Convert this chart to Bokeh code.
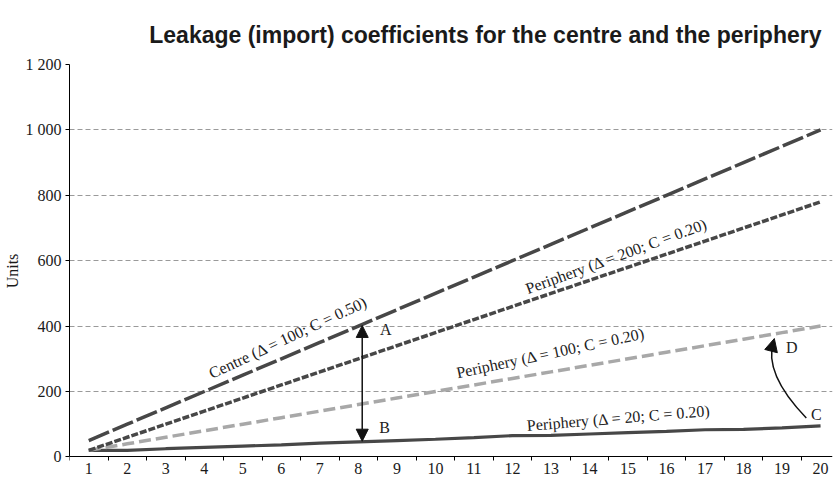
import math
from bokeh.plotting import figure
from bokeh.models import (Range1d, FixedTicker, CustomJSTickFormatter, Arrow, NormalHead)
from bokeh.core.properties import value
from bokeh.embed import file_html
from bokeh.resources import INLINE

# ---- data ----
periods = [1, 2, 3, 4, 5, 6, 7, 8, 9, 10, 11, 12, 13, 14, 15, 16, 17, 18, 19, 20]
centre_100_050 = [50, 100, 150, 200, 250, 300, 350, 400, 450, 500,
                  550, 600, 650, 700, 750, 800, 850, 900, 950, 1000]
periphery_200_020 = [20, 60, 100, 140, 180, 220, 260, 300, 340, 380,
                     420, 460, 500, 540, 580, 620, 660, 700, 740, 780]
periphery_100_020 = [20, 40, 60, 80, 100, 120, 140, 160, 180, 200,
                     220, 240, 260, 280, 300, 320, 340, 360, 380, 400]
periphery_20_020 = [20, 20, 25, 29, 33, 37, 42, 46, 50, 54,
                    59, 65, 66, 70, 74, 78, 83, 84, 89, 95]
y_ticks = [0, 200, 400, 600, 800, 1000, 1200]

series_labels = ["Centre (\u0394 = 100; C =  0.50)",
                 "Periphery (\u0394 = 200; C = 0.20)",
                 "Periphery (\u0394 = 100; C = 0.20)",
                 "Periphery (\u0394 = 20; C = 0.20)"]
label_x = [6.22, 14.70, 12.99, 14.76]
label_y = [368, 614, 318, 119]
label_deg = [25, 20, 12, 4.7]

letters = ["A", "B", "C", "D"]
letter_x = [8.71, 8.68, 19.89, 19.25]
letter_y = [391, 89, 131, 336]

SERIF = "Liberation Serif"
DARK = "#474747"
LIGHT = "#a8a8a8"

p = figure(frame_width=763, frame_height=413, output_backend="svg", toolbar_location=None,
           x_range=Range1d(0.5, 20.31), y_range=Range1d(-63, 1200),
           min_border_left=62, min_border_right=1, min_border_top=64,
           min_border_bottom=0)
p.outline_line_color = None
p.background_fill_color = "white"
p.border_fill_color = "white"

p.title.text = "Leakage (import) coefficients for the centre and the periphery"
p.title.text_font = "Liberation Sans"
p.title.text_font_style = "bold"
p.title.text_font_size = "23px"
p.title.text_color = "#1a1a1a"
p.title.align = "right"
p.title.offset = 11
p.title.standoff = 34

# axes
xa = p.xaxis[0]
xa.fixed_location = 0
xa.ticker = FixedTicker(ticks=periods, minor_ticks=[i + 0.5 for i in range(0, 20)])
xa.major_tick_out = 0
xa.major_tick_in = 0
xa.minor_tick_out = 4
xa.minor_tick_in = 0
xa.minor_tick_line_color = "black"
xa.axis_line_color = "black"
xa.major_label_standoff = 2
xa.major_label_text_font = SERIF
xa.major_label_text_font_size = "16px"
xa.major_label_text_color = "#1a1a1a"

ya = p.yaxis[0]
ya.bounds = (0, 1200)
ya.ticker = FixedTicker(ticks=y_ticks)
ya.formatter = CustomJSTickFormatter(code="""
    if (tick >= 1000) {
        const r = String(tick % 1000).padStart(3, '0');
        return Math.floor(tick / 1000) + ' ' + r;
    }
    return String(tick);
""")
ya.minor_tick_line_color = None
ya.major_tick_out = 4
ya.major_tick_in = 0
ya.axis_line_color = "black"
ya.major_label_standoff = 4
ya.major_label_text_font = SERIF
ya.major_label_text_font_size = "16px"
ya.major_label_text_color = "#1a1a1a"
ya.axis_label = "Units"
ya.axis_label_text_font = SERIF
ya.axis_label_text_font_style = "normal"
ya.axis_label_text_font_size = "16px"
ya.axis_label_text_color = "#1a1a1a"
ya.axis_label_standoff = 2

p.xgrid.grid_line_color = None
p.ygrid.ticker = FixedTicker(ticks=y_ticks[1:])
p.ygrid.grid_line_color = "#9a9a9a"
p.ygrid.grid_line_dash = "5 3"
p.ygrid.grid_line_width = 1

# series
p.line(periods, periphery_20_020, line_color=DARK, line_width=3.2)
p.line(periods, periphery_100_020, line_color=LIGHT, line_width=3.5, line_dash="12 5")
p.line(periods, periphery_200_020, line_color=DARK, line_width=3.5, line_dash="7 2")
p.line(periods, centre_100_050, line_color=DARK, line_width=3.5, line_dash="22 4")

# series labels
p.text(x=label_x, y=label_y, text=series_labels,
       angle=[math.radians(a) for a in label_deg],
       text_font=value(SERIF), text_font_size="16px", text_color="#222222",
       text_align="center", text_baseline="middle")

# letters
p.text(x=letter_x, y=letter_y, text=letters,
       text_font=value(SERIF), text_font_size="16px", text_color="#222222",
       text_align="center", text_baseline="middle")

# double arrow A-B
p.add_layout(Arrow(x_start=8.1, y_start=48, x_end=8.1, y_end=402,
                   line_color="#111111", line_width=1.5,
                   start=NormalHead(size=12, fill_color="#111111", line_color="#111111"),
                   end=NormalHead(size=12, fill_color="#111111", line_color="#111111")))

# curved arrow C -> D
p.quadratic(x0=[19.63], y0=[119], x1=[18.78], y1=[355], cx=[18.51], cy=[255],
            line_color="#111111", line_width=1.5)
p.add_layout(Arrow(x_start=18.74, y_start=335, x_end=18.80, y_end=362,
                   line_color=None, line_width=1.5,
                   end=NormalHead(size=13, fill_color="#111111", line_color="#111111")))

open("out.html", "w").write(file_html(p, INLINE))
